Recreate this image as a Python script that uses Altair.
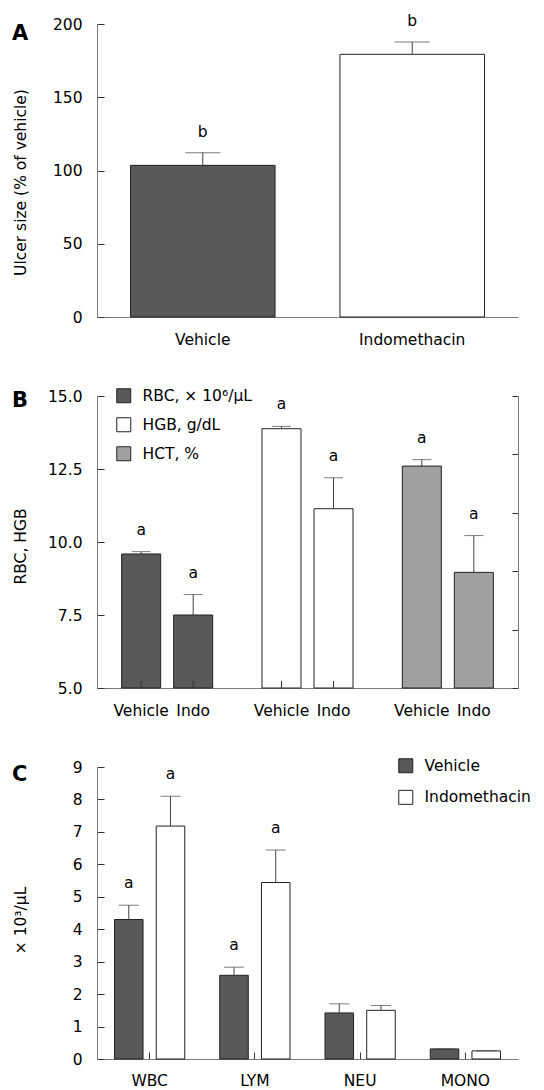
import altair as alt
import pandas as pd

FONT = "DejaVu Sans"
FS = 15.5
DARK = "#595959"
LIGHT = "#a0a0a0"
WHITE = "#ffffff"
STROKE = "#222222"
AXIS = "#7a7a7a"
TICK = "#333333"
ERR = "#444444"

# ---------------- Panel A data ----------------
a_groups = ["Vehicle", "Indomethacin"]
a_mean = [103.5, 179.3]
a_upper = [112.2, 187.7]
a_sig = ["b", "b"]
a_ticks = [0, 50, 100, 150, 200]

# ---------------- Panel B data ----------------
b_params = ["RBC, × 10⁶/μL", "HGB, g/dL", "HCT, %"]
b_treat = ["Vehicle", "Indo"]
b_rbc_mean = [9.59, 7.50]
b_rbc_upper = [9.67, 8.20]
b_hgb_mean = [13.88, 11.14]
b_hgb_upper = [13.96, 12.20]
b_hct_mean = [44.0, 34.9]       # right axis (%)
b_hct_upper = [44.55, 38.05]
b_sig = ["a", "a"]
b_left_ticks = [5.0, 7.5, 10.0, 12.5, 15.0]
b_right_ticks = [25, 30, 35, 40, 45, 50]

# ---------------- Panel C data ----------------
c_cells = ["WBC", "LYM", "NEU", "MONO"]
c_treat = ["Vehicle", "Indomethacin"]
c_veh_mean = [4.30, 2.58, 1.42, 0.31]
c_veh_upper = [4.74, 2.83, 1.70, 0.31]
c_indo_mean = [7.18, 5.44, 1.50, 0.25]
c_indo_upper = [8.10, 6.44, 1.65, 0.25]
c_veh_sig = ["a", "a", "", ""]
c_indo_sig = ["a", "a", "", ""]
c_ticks = [0, 1, 2, 3, 4, 5, 6, 7, 8, 9]

W = 421
HA, HB, HC = 293, 292, 292
INWARD = alt.ExprRef(expr="-7")


def axis(**kw):
    d = dict(domainColor=AXIS, tickColor=TICK, grid=False, labelFont=FONT,
             labelFontSize=FS, labelColor="#000000", titleFont=FONT,
             titleFontSize=FS, titleFontWeight="normal", titleColor="#000000",
             tickSize=INWARD, labelOverlap=False)
    d.update(kw)
    return alt.Axis(**d)


def letter(t, dy):
    return alt.TitleParams(text=t, anchor="start", frame="group", orient="top",
                           dx=-85, dy=dy, offset=0, baseline="top", font=FONT,
                           fontSize=21, fontWeight=900, color="#000000")


# ================= Panel A =================
dfA = pd.DataFrame({"group": a_groups, "mean": a_mean, "upper": a_upper, "sig": a_sig})
axAx = axis(title=None, labelAngle=0, labelPadding=22)
axAy = axis(values=a_ticks, format="d", title="Ulcer size (% of vehicle)",
            labelPadding=22, titleX=-69, titleY=158)
xA = alt.X("group:N", sort=a_groups,
           scale=alt.Scale(domain=a_groups, paddingInner=0.31, paddingOuter=0.16), axis=axAx)
yA = alt.Scale(domain=[0, 200], nice=False)
barsA = alt.Chart(dfA).mark_bar(stroke=STROKE, strokeWidth=1).encode(
    x=xA, y=alt.Y("mean:Q", scale=yA, axis=axAy),
    color=alt.Color("group:N", scale=alt.Scale(domain=a_groups, range=[DARK, WHITE]), legend=None),
)
errA = alt.Chart(dfA).mark_rule(color=ERR).encode(
    x=xA, y=alt.Y("mean:Q", scale=yA, axis=axAy), y2="upper:Q")
capA = alt.Chart(dfA).mark_tick(color=ERR, size=35, thickness=1).encode(
    x=xA, y=alt.Y("upper:Q", scale=yA, axis=axAy))
txtA = alt.Chart(dfA).mark_text(baseline="alphabetic", dy=-16, font=FONT, fontSize=FS, color="#000").encode(
    x=xA, y=alt.Y("upper:Q", scale=yA, axis=axAy), text="sig:N")
panelA = alt.layer(barsA, errA, capA, txtA).properties(width=W, height=HA, title=letter("A", 30))

# ================= Panel B =================
rowsL = []
for p, means, ups in [(b_params[0], b_rbc_mean, b_rbc_upper), (b_params[1], b_hgb_mean, b_hgb_upper)]:
    for t, m, u, s in zip(b_treat, means, ups, b_sig):
        rowsL.append({"param": p, "treat": t, "mean": m, "upper": u, "sig": s})
dfBL = pd.DataFrame(rowsL)
dfBR = pd.DataFrame({"param": [b_params[2]] * 2, "treat": b_treat,
                     "mean": b_hct_mean, "upper": b_hct_upper, "sig": b_sig})
dfBall = pd.concat([dfBL, dfBR], ignore_index=True)

xB = alt.X("param:N", sort=b_params, scale=alt.Scale(domain=b_params, paddingInner=0, paddingOuter=0),
           axis=alt.Axis(labels=False, ticks=False, title=None, domainColor=AXIS, grid=False))
xoB = alt.XOffset("treat:N", sort=b_treat,
                  scale=alt.Scale(domain=b_treat, paddingInner=0.25, paddingOuter=0.474))
yBL = alt.Scale(domain=[5, 15], nice=False, zero=False)
yBR = alt.Scale(domain=[25, 50], nice=False, zero=False)
axBL = axis(values=b_left_ticks, format=".1f", title="RBC, HGB",
            labelPadding=22, titleX=-69, titleY=150)
axBR = axis(values=b_right_ticks, labels=False, title=None, orient="right",
            tickSize=alt.ExprRef(expr="-6"))
colB = alt.Color("param:N", scale=alt.Scale(domain=b_params, range=[DARK, WHITE, LIGHT]),
                 legend=alt.Legend(title=None, orient="none", legendX=19, legendY=-8,
                                   symbolType="square", symbolSize=196, symbolStrokeColor=STROKE,
                                   symbolStrokeWidth=1, labelFont=FONT, labelFontSize=FS,
                                   labelColor="#000", labelOffset=11, rowPadding=10, padding=0))

barsBL = alt.Chart(dfBL).mark_bar(stroke=STROKE, strokeWidth=1).encode(
    x=xB, xOffset=xoB, y=alt.Y("mean:Q", scale=yBL, axis=axBL),
    y2=alt.datum(b_left_ticks[0]), color=colB)
errBL = alt.Chart(dfBL).mark_rule(color=ERR).encode(
    x=xB, xOffset=xoB, y=alt.Y("mean:Q", scale=yBL, axis=axBL), y2="upper:Q")
capBL = alt.Chart(dfBL).mark_tick(color=ERR, size=19, thickness=1).encode(
    x=xB, xOffset=xoB, y=alt.Y("upper:Q", scale=yBL, axis=axBL))
txtBL = alt.Chart(dfBL).mark_text(baseline="alphabetic", dy=-17, font=FONT, fontSize=FS, color="#000").encode(
    x=xB, xOffset=xoB, y=alt.Y("upper:Q", scale=yBL, axis=axBL), text="sig:N")
labB = alt.Chart(dfBall).mark_text(baseline="top", font=FONT, fontSize=FS, color="#000").encode(
    x=xB, xOffset=xoB, y=alt.value(HB + 16), text="treat:N")
tickB = alt.Chart(dfBall).mark_rule(color=TICK).encode(
    x=xB, xOffset=xoB, y=alt.value(HB - 7), y2=alt.value(HB))
leftB = alt.layer(barsBL, errBL, capBL, txtBL, labB, tickB)

barsBR = alt.Chart(dfBR).mark_bar(stroke=STROKE, strokeWidth=1).encode(
    x=xB, xOffset=xoB, y=alt.Y("mean:Q", scale=yBR, axis=axBR),
    y2=alt.datum(b_right_ticks[0]), color=colB)
errBR = alt.Chart(dfBR).mark_rule(color=ERR).encode(
    x=xB, xOffset=xoB, y=alt.Y("mean:Q", scale=yBR, axis=axBR), y2="upper:Q")
capBR = alt.Chart(dfBR).mark_tick(color=ERR, size=19, thickness=1).encode(
    x=xB, xOffset=xoB, y=alt.Y("upper:Q", scale=yBR, axis=axBR))
txtBR = alt.Chart(dfBR).mark_text(baseline="alphabetic", dy=-17, font=FONT, fontSize=FS, color="#000").encode(
    x=xB, xOffset=xoB, y=alt.Y("upper:Q", scale=yBR, axis=axBR), text="sig:N")
rightB = alt.layer(barsBR, errBR, capBR, txtBR)

panelB = alt.layer(leftB, rightB).resolve_scale(y="independent").properties(
    width=W, height=HB, title=letter("B", 23))

# ================= Panel C =================
rowsC = []
for t, means, ups, sigs in [(c_treat[0], c_veh_mean, c_veh_upper, c_veh_sig),
                            (c_treat[1], c_indo_mean, c_indo_upper, c_indo_sig)]:
    for c, m, u, s in zip(c_cells, means, ups, sigs):
        rowsC.append({"cell": c, "trt": t, "mean": m, "upper": u, "sig": s})
dfC = pd.DataFrame(rowsC)
axCx = axis(title=None, labelAngle=0, labelPadding=21)
axCy = axis(values=c_ticks, format="d", title="× 10³/μL",
            labelPadding=22, titleX=-69, titleY=153)
xC = alt.X("cell:N", sort=c_cells, scale=alt.Scale(domain=c_cells, paddingInner=0, paddingOuter=0),
           axis=axCx)
xoC = alt.XOffset("trt:N", sort=c_treat,
                  scale=alt.Scale(domain=c_treat, paddingInner=0.316, paddingOuter=0.42))
yC = alt.Scale(domain=[0, 9], nice=False)
barsC = alt.Chart(dfC).mark_bar(stroke=STROKE, strokeWidth=1).encode(
    x=xC, xOffset=xoC, y=alt.Y("mean:Q", scale=yC, axis=axCy),
    color=alt.Color("trt:N", scale=alt.Scale(domain=c_treat, range=[DARK, WHITE]),
                    legend=alt.Legend(title=None, orient="none", legendX=301, legendY=-9,
                                      symbolType="square", symbolSize=196, symbolStrokeColor=STROKE,
                                      symbolStrokeWidth=1, labelFont=FONT, labelFontSize=FS,
                                      labelColor="#000", labelOffset=11, rowPadding=12.6, padding=0)))
errC = alt.Chart(dfC).mark_rule(color=ERR).encode(
    x=xC, xOffset=xoC, y=alt.Y("mean:Q", scale=yC, axis=axCy), y2="upper:Q")
capC = alt.Chart(dfC).mark_tick(color=ERR, size=20, thickness=1).encode(
    x=xC, xOffset=xoC, y=alt.Y("upper:Q", scale=yC, axis=axCy))
txtC = alt.Chart(dfC).mark_text(baseline="alphabetic", dy=-17, font=FONT, fontSize=FS, color="#000").encode(
    x=xC, xOffset=xoC, y=alt.Y("upper:Q", scale=yC, axis=axCy), text="sig:N")
panelC = alt.layer(barsC, errC, capC, txtC).properties(width=W, height=HC, title=letter("C", 27))

chart = alt.vconcat(panelA, panelB, panelC, spacing=79, bounds="flush").resolve_scale(
    color="independent", xOffset="independent", x="independent", y="independent").resolve_legend(
    color="independent").configure_view(
    stroke=None).properties(padding={"left": 12, "top": 14, "right": 0, "bottom": 0})

chart.save("out.html", embed_options={"renderer": "svg", "actions": False})
